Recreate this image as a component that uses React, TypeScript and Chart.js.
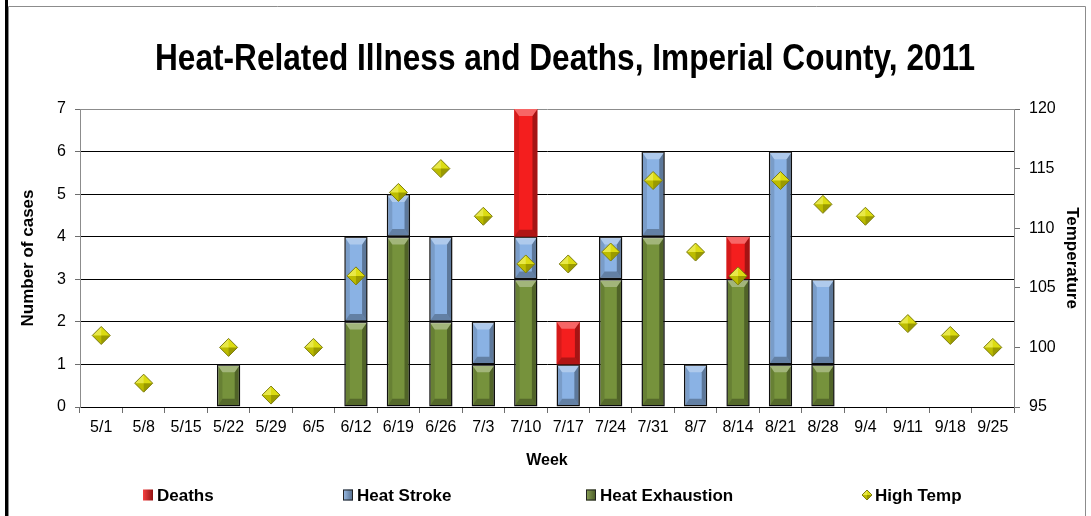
import React, { useEffect, useRef } from "react";
import { Chart, registerables } from "chart.js";

Chart.register(...registerables);

const weeks = ["5/1", "5/8", "5/15", "5/22", "5/29", "6/5", "6/12", "6/19", "6/26", "7/3", "7/10", "7/17", "7/24", "7/31", "8/7", "8/14", "8/21", "8/28", "9/4", "9/11", "9/18", "9/25"];
const heatExhaustion = [0, 0, 0, 1, 0, 0, 2, 4, 2, 1, 3, 0, 3, 4, 0, 3, 1, 1, 0, 0, 0, 0];
const heatStroke = [0, 0, 0, 0, 0, 0, 2, 1, 2, 1, 1, 1, 1, 2, 1, 0, 5, 2, 0, 0, 0, 0];
const deaths = [0, 0, 0, 0, 0, 0, 0, 0, 0, 0, 3, 1, 0, 0, 0, 1, 0, 0, 0, 0, 0, 0];
const highTemp = [101, 97, null, 100, 96, 100, 106, 113, 115, 111, 107, 107, 108, 114, 108, 106, 114, 112, 111, 102, 101, 100];

const casesMin = 0;
const casesMax = 7;
const tempMin = 95;
const tempMax = 120;

const TITLE = "Heat-Related Illness and Deaths, Imperial County, 2011";
const FONT = "'Liberation Sans', Arial, sans-serif";

const COLORS = {
  deaths: "#F41E1E",
  stroke: "#8AB2E4",
  exhaustion: "#76923C",
  temp: "#D6D600",
};

const legendItems = [
  { label: "Deaths", color: COLORS.deaths, kind: "box", x: 143 },
  { label: "Heat Stroke", color: COLORS.stroke, kind: "box", x: 343 },
  { label: "Heat Exhaustion", color: COLORS.exhaustion, kind: "box", x: 586 },
  { label: "High Temp", color: COLORS.temp, kind: "diamond", x: 862 },
];

const nz = (a: number[]) => a.map((v) => (v ? v : null));

function shade(hex: string, amt: number) {
  const n = parseInt(hex.slice(1), 16);
  let r = (n >> 16) & 255, g = (n >> 8) & 255, b = n & 255;
  const f = (c: number) => Math.max(0, Math.min(255, Math.round(amt < 0 ? c * (1 + amt) : c + (255 - c) * amt)));
  r = f(r); g = f(g); b = f(b);
  return `rgb(${r},${g},${b})`;
}

function drawDiamond(ctx: CanvasRenderingContext2D, x: number, y: number, r: number) {
  ctx.save();
  const path = () => {
    ctx.beginPath();
    ctx.moveTo(x, y - r);
    ctx.lineTo(x + r, y);
    ctx.lineTo(x, y + r);
    ctx.lineTo(x - r, y);
    ctx.closePath();
  };
  path();
  ctx.fillStyle = COLORS.temp;
  ctx.fill();
  const facet = (ax: number, ay: number, bx: number, by: number, col: string) => {
    ctx.beginPath();
    ctx.moveTo(x, y);
    ctx.lineTo(ax, ay);
    ctx.lineTo(bx, by);
    ctx.closePath();
    ctx.fillStyle = col;
    ctx.fill();
  };
  facet(x - r, y, x, y - r, "rgba(255,255,160,0.45)");
  facet(x, y - r, x + r, y, "rgba(255,255,120,0.15)");
  facet(x - r, y, x, y + r, "rgba(0,0,0,0.12)");
  facet(x, y + r, x + r, y, "rgba(0,0,0,0.28)");
  path();
  ctx.strokeStyle = "#7d7d12";
  ctx.lineWidth = 1;
  ctx.stroke();
  ctx.restore();
}

const framePlugin = {
  id: "frame",
  beforeDraw(chart: any) {
    const { ctx, width, height } = chart;
    ctx.save();
    ctx.fillStyle = "#fff";
    ctx.fillRect(0, 0, width, height);
    ctx.fillStyle = "#000";
    ctx.fillRect(5, 0, 3, height);
    ctx.strokeStyle = "#8c8c8c";
    ctx.lineWidth = 1;
    ctx.beginPath();
    ctx.moveTo(8.5, height);
    ctx.lineTo(8.5, 6.5);
    ctx.lineTo(1085.5, 6.5);
    ctx.lineTo(1085.5, height);
    ctx.stroke();
    ctx.restore();
  },
  afterDraw(chart: any) {
    const { ctx } = chart;
    ctx.save();
    ctx.font = `bold 37px ${FONT}`;
    const w = ctx.measureText(TITLE).width;
    const sx = 820 / w;
    ctx.translate(565, 60);
    ctx.scale(sx, 1);
    ctx.fillStyle = "#000";
    ctx.textAlign = "center";
    ctx.textBaseline = "middle";
    ctx.fillText(TITLE, 0, 0);
    ctx.restore();

    ctx.save();
    const ly = 495;
    ctx.font = `bold 17px ${FONT}`;
    ctx.textBaseline = "middle";
    ctx.textAlign = "left";
    for (const it of legendItems) {
      if (it.kind === "box") {
        const g = ctx.createLinearGradient(it.x, 0, it.x + 10, 0);
        g.addColorStop(0, shade(it.color, 0.15));
        g.addColorStop(1, shade(it.color, -0.4));
        ctx.fillStyle = g;
        ctx.fillRect(it.x, ly - 5.5, 10, 11);
        if (it.label !== "Deaths") {
          ctx.strokeStyle = "#222";
          ctx.lineWidth = 1;
          ctx.strokeRect(it.x + 0.5, ly - 5, 9, 10);
        }
        ctx.fillStyle = "#000";
        ctx.fillText(it.label, it.x + 14, ly + 1);
      } else {
        drawDiamond(ctx, it.x + 5, ly, 5);
        ctx.fillStyle = "#000";
        ctx.fillText(it.label, it.x + 13, ly + 1);
      }
    }
    ctx.restore();
  },
};

const bevelPlugin = {
  id: "bevel",
  afterDatasetDraw(chart: any, args: any) {
    const meta = args.meta;
    const { ctx } = chart;
    const ds = chart.data.datasets[args.index];
    if (meta.type === "bar") {
      const bw = ds.borderWidth || 0;
      ctx.save();
      meta.data.forEach((el: any, i: number) => {
        if (ds.data[i] == null) return;
        const l = el.x - el.width / 2 + bw / 2;
        const r = el.x + el.width / 2 - bw / 2;
        const t = Math.min(el.y, el.base) + bw / 2;
        const b = Math.max(el.y, el.base) - bw / 2;
        if (b - t < 2) return;
        const w = r - l;
        const e = Math.min(5, w * 0.22);
        const eh = Math.min(7, (b - t) / 2);
        const poly = (pts: number[][], col: string) => {
          ctx.beginPath();
          ctx.moveTo(pts[0][0], pts[0][1]);
          for (let k = 1; k < pts.length; k++) ctx.lineTo(pts[k][0], pts[k][1]);
          ctx.closePath();
          ctx.fillStyle = col;
          ctx.fill();
        };
        poly([[l, t], [l + e, t + eh], [l + e, b - eh], [l, b]], "rgba(0,0,0,0.12)");
        poly([[r, t], [r - e, t + eh], [r - e, b - eh], [r, b]], "rgba(0,0,0,0.32)");
        poly([[l, t], [r, t], [r - e, t + eh], [l + e, t + eh]], "rgba(255,255,255,0.32)");
        poly([[l, b], [r, b], [r - e, b - eh], [l + e, b - eh]], "rgba(0,0,0,0.28)");
      });
      ctx.restore();
    } else if (meta.type === "line") {
      meta.data.forEach((el: any, i: number) => {
        if (ds.data[i] == null) return;
        drawDiamond(ctx, el.x, el.y, 9);
      });
    }
  },
};

export default function App() {
  const ref = useRef<HTMLCanvasElement | null>(null);

  useEffect(() => {
    if (!ref.current) return;
    const chart = new Chart(ref.current, {
      type: "bar",
      data: {
        labels: weeks,
        datasets: [
          {
            type: "line",
            label: "High Temp",
            data: highTemp,
            yAxisID: "y1",
            showLine: false,
            pointStyle: "rectRot",
            pointRadius: 9,
            pointBackgroundColor: "rgba(0,0,0,0)",
            pointBorderColor: "rgba(0,0,0,0)",
            order: 0,
          } as any,
          {
            label: "Heat Exhaustion",
            data: nz(heatExhaustion),
            backgroundColor: COLORS.exhaustion,
            borderColor: "#111",
            borderWidth: 1.5,
            borderSkipped: false,
            stack: "cases",
            yAxisID: "y",
            order: 1,
          },
          {
            label: "Heat Stroke",
            data: nz(heatStroke),
            backgroundColor: COLORS.stroke,
            borderColor: "#111",
            borderWidth: 1.5,
            borderSkipped: false,
            stack: "cases",
            yAxisID: "y",
            order: 1,
          },
          {
            label: "Deaths",
            data: nz(deaths),
            backgroundColor: COLORS.deaths,
            borderWidth: 0,
            stack: "cases",
            yAxisID: "y",
            order: 1,
          },
        ],
      },
      options: {
        responsive: false,
        animation: false,
        events: [],
        layout: { padding: { top: 109, bottom: 46, left: 0, right: 0 } },
        datasets: { bar: { barPercentage: 0.55, categoryPercentage: 1 } },
        plugins: {
          legend: { display: false },
          title: { display: false },
          tooltip: { enabled: false },
        },
        scales: {
          x: {
            stacked: true,
            offset: true,
            grid: {
              offset: true,
              drawOnChartArea: false,
              drawTicks: true,
              tickLength: 6,
              tickColor: "#6e6e6e",
            },
            border: { color: "#000", width: 1 },
            ticks: {
              color: "#000",
              font: { family: FONT, size: 16 },
              padding: 5,
              maxRotation: 0,
              autoSkip: false,
            },
            title: {
              display: true,
              text: "Week",
              color: "#000",
              font: { family: FONT, size: 16, weight: "bold" },
              padding: 0,
            },
            afterFit: (s: any) => {
              s.height = 63;
            },
          },
          y: {
            stacked: true,
            position: "left",
            min: casesMin,
            max: casesMax,
            ticks: {
              stepSize: 1,
              color: "#000",
              font: { family: FONT, size: 16 },
              padding: 9,
            },
            grid: {
              color: (c: any) => (c.tick && c.tick.value === casesMax ? "#8c8c8c" : "#000"),
              tickColor: "#6e6e6e",
              tickLength: 5,
              lineWidth: 1,
            },
            border: { color: "#8c8c8c", width: 1 },
            title: {
              display: true,
              text: "Number of cases",
              color: "#000",
              font: { family: FONT, size: 17, weight: "bold" },
              padding: { top: 18, bottom: 0 },
            },
            afterFit: (s: any) => {
              s.width = 80;
            },
          },
          y1: {
            position: "right",
            min: tempMin,
            max: tempMax,
            ticks: {
              stepSize: 5,
              color: "#000",
              font: { family: FONT, size: 16 },
              padding: 9,
            },
            grid: {
              drawOnChartArea: false,
              tickColor: "#6e6e6e",
              tickLength: 6,
            },
            border: { color: "#8c8c8c", width: 1 },
            title: {
              display: true,
              text: "Temperature",
              color: "#000",
              font: { family: FONT, size: 17, weight: "bold" },
              padding: { top: 9, bottom: 0 },
            },
            afterFit: (s: any) => {
              s.width = 77;
            },
          },
        },
      },
      plugins: [framePlugin, bevelPlugin],
    } as any);
    return () => chart.destroy();
  }, []);

  return (
    <div style={{ position: "fixed", left: 0, top: 0, width: 1091, height: 516, background: "#fff" }}>
      <canvas ref={ref} width={1091} height={516} style={{ display: "block", width: 1091, height: 516 }} />
    </div>
  );
}
